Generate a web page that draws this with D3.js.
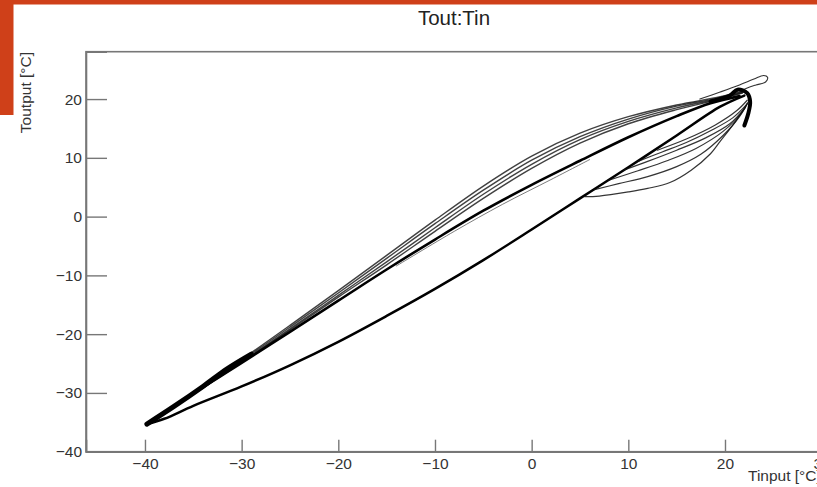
<!DOCTYPE html>
<html>
<head>
<meta charset="utf-8">
<script src="https://cdn.jsdelivr.net/npm/d3@7"></script>
<style>
  body { margin: 0; background: #fff; }
  svg { display: block; font-family: "Liberation Sans", Arial, sans-serif; }
</style>
</head>
<body>
<div class="chart"></div>
<script>
var w = 817;
var h = 487;

// tick values
var xMajor = [-40, -30, -20, -10, 0, 10, 20, 30];
var yMajor = [-40, -30, -20, -10, 0, 10, 20];
var xMinor = d3.range(-46, 36, 2);
var yMinor = d3.range(-40, 29, 2);

// upper (cooling) band, several cycles
var bandX = [-39.8, -35, -30, -25, -20, -15, -10, -5, 0, 5, 10, 15, 19.5, 21.8];
var bandA = [-35.3, -29.9, -24.3, -18.5, -12.6, -6.6, -0.6, 5.2, 10.3, 14.2, 17.0, 19.0, 20.4, 21.3];
var bandB = [-35.3, -30.0, -24.5, -18.8, -13.0, -7.1, -1.2, 4.5, 9.6, 13.6, 16.6, 18.8, 20.2, 21.2];
var bandC = [-35.2, -30.1, -24.7, -19.1, -13.4, -7.7, -1.9, 3.8, 8.9, 13.1, 16.2, 18.5, 20.1, 21.1];
var bandD = [-35.2, -30.2, -24.8, -19.3, -13.7, -8.2, -2.5, 3.1, 8.2, 12.5, 15.8, 18.2, 20.0, 21.0];

// middle branch
var midX = [-39.8, -35, -30, -25, -20, -15, -10, -5, 0, 5, 10, 15, 18.5, 21.5];
var midY = [-35.3, -30.1, -24.9, -19.6, -14.3, -9.0, -3.9, 1.0, 5.4, 9.5, 13.5, 17.1, 19.3, 20.5];
var midThin = [[-14, -8.4], [-8, -2.5], [-3, 2.1], [2, 6.3], [6, 9.7]];

// lower (heating) branch
var lowX = [-39.8, -38, -35, -30, -25, -20, -15, -10, -5, 0, 5, 10, 15, 19.5, 22];
var lowY = [-35.3, -34.4, -32.2, -28.9, -25.3, -21.3, -16.9, -12.3, -7.4, -2.2, 3.1, 8.4, 13.8, 18.7, 20.6];

// partial heating loops sagging under the lower branch
var sag1 = [[5.5, 3.4], [7, 3.5], [10, 4.2], [12, 4.8], [14.3, 5.8], [16.5, 7.9], [18.5, 10.7], [19.5, 12.8], [21, 16.0], [22.3, 19.2]];
var sag2 = [[6.5, 4.6], [9, 5.6], [12, 6.8], [15, 8.5], [17.5, 10.6], [19.8, 13.8], [21.5, 17.0], [22.3, 19.3]];
var sag3 = [[8, 6.2], [11, 7.8], [14, 9.5], [17, 11.6], [19.8, 14.5], [21.8, 17.8], [22.4, 19.5]];
var sag4 = [[9.5, 7.9], [12, 9.4], [15, 11.3], [18, 13.4], [20.5, 15.8], [22.1, 18.6]];
var sag5 = [[11, 9.4], [13.5, 11.0], [16, 12.6], [18.5, 14.6], [20.8, 16.8], [22.2, 19.0]];
var sag6 = [[13, 11.3], [16, 13.2], [19, 15.6], [21.2, 18.0], [22.3, 19.8]];

// heavy parts: cold tip, warm end, and the lone excursion loop
var tipSeg = [[-39.8, -35.3], [-37, -32.3], [-34, -28.9], [-31.5, -25.9], [-29, -23.4]];
var warmEnd = [[18.5, 19.6], [20.5, 20.6], [21.3, 21.6], [22.3, 21.0], [22.6, 19.5], [22.4, 17.5], [22.0, 15.5]];
var loopTop = [[17.4, 20.0], [19.5, 21.2], [21.5, 22.4], [23.0, 23.4], [24.0, 24.0], [24.4, 23.7], [24.2, 22.9], [23.2, 22.4], [22.3, 21.9], [21.6, 21.4]];

var zip = function(xs, ys) {
    return xs.map(function(x, i) { return [x, ys[i]]; });
};

var x = d3.scaleLinear().domain([-46.1, 35]).range([86, 870]);
var y = d3.scaleLinear().domain([-40, 28.06]).range([451.7, 51.7]);

var svg = d3.select(".chart")
    .append("svg")
    .attr("width", w)
    .attr("height", h);

// slide decoration
svg.append("rect").attr("x", 0).attr("y", 0).attr("width", w).attr("height", 4.5).attr("fill", "#cf4019");
svg.append("rect").attr("x", 0).attr("y", 0).attr("width", 13.5).attr("height", 115).attr("fill", "#cf4019");

var line = d3.line()
    .x(function(d) { return x(d[0]); })
    .y(function(d) { return y(d[1]); })
    .curve(d3.curveCatmullRom);

var plot = svg.append("g");

function draw(data, width, color, opacity) {
    plot.append("path")
        .datum(data)
        .attr("d", line)
        .attr("fill", "none")
        .attr("stroke", color)
        .attr("stroke-width", width)
        .attr("stroke-opacity", opacity)
        .attr("stroke-linejoin", "round")
        .attr("stroke-linecap", "round");
}

[bandA, bandB, bandC, bandD].forEach(function(b) {
    draw(zip(bandX, b), 1.4, "#111", 0.8);
});
draw(midThin, 1, "#444", 0.7);
draw(zip(midX, midY), 2.6, "#000", 1);
draw(zip(lowX, lowY), 2.5, "#000", 1);
[sag1, sag2, sag3, sag4, sag5, sag6].forEach(function(s) {
    draw(s, 1.2, "#111", 0.85);
});
draw(loopTop, 1.1, "#333", 1);
draw(tipSeg, 5, "#000", 1);
draw(warmEnd, 4, "#000", 1);

// frame
svg.append("rect")
    .attr("x", 86).attr("y", 51.7)
    .attr("width", 870 - 86).attr("height", 400)
    .attr("fill", "none")
    .attr("stroke", "#777")
    .attr("stroke-width", 1.6);

// axes
var gx = svg.append("g").attr("transform", "translate(0,451.7)");
gx.call(d3.axisBottom(x).tickValues(xMinor).tickSize(-6).tickFormat(""));
gx.call(d3.axisBottom(x).tickValues(xMajor).tickSize(-12).tickPadding(6));

var gy = svg.append("g").attr("transform", "translate(86,0)");
gy.call(d3.axisLeft(y).tickValues(yMinor).tickSize(-11).tickFormat(""));
gy.call(d3.axisLeft(y).tickValues(yMajor).tickSize(-21).tickPadding(4));

svg.selectAll(".domain").attr("stroke", "#777").attr("stroke-width", 1.6);
svg.selectAll(".tick line").attr("stroke", "#777").attr("stroke-width", 1.4);
svg.selectAll(".tick text").attr("font-size", 15.5).attr("fill", "#333")
    .attr("font-family", "Liberation Sans, Arial, sans-serif");

// titles
svg.append("text")
    .attr("x", 454).attr("y", 25)
    .attr("text-anchor", "middle")
    .attr("font-size", 20.5)
    .attr("fill", "#222")
    .text("Tout:Tin");

svg.append("text")
    .attr("transform", "translate(31,52) rotate(-90)")
    .attr("text-anchor", "end")
    .attr("font-size", 15.5)
    .attr("fill", "#333")
    .text("Toutput [°C]");

svg.append("text")
    .attr("x", 748).attr("y", 481)
    .attr("font-size", 15.5)
    .attr("fill", "#333")
    .text("Tinput [°C]");
</script>
</body>
</html>
